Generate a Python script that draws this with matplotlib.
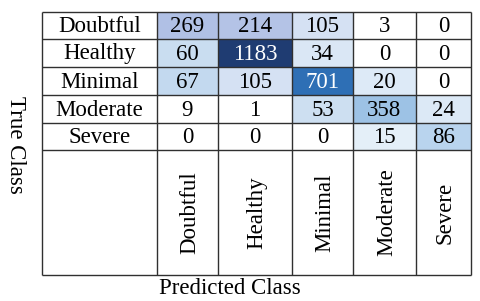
import numpy as np
import matplotlib
matplotlib.use('Agg')
import matplotlib.pyplot as plt
import matplotlib.colors as mcolors

# Confusion matrix data
classes = ['Doubtful', 'Healthy', 'Minimal', 'Moderate', 'Severe']
cm = np.array([
    [269, 214, 105, 3, 0],
    [60, 1183, 34, 0, 0],
    [67, 105, 701, 20, 0],
    [9, 1, 53, 358, 24],
    [0, 0, 0, 15, 86],
])

plt.rcParams['font.family'] = ['Liberation Serif', 'DejaVu Serif']
fs = 16.5

# table layout in pixels (figure is 480x301)
x_edges = np.array([42, 157, 218, 292, 353, 416, 471])
y_edges = np.array([12, 39, 67, 95, 123, 150, 275])

# colour scale anchored on the shades in the original
anchors = [(0, '#ffffff'), (9, '#ffffff'), (15, '#deebf7'), (34, '#dae7f5'),
           (60, '#c6dbef'), (86, '#b8d3ee'), (105, '#dae3f4'), (214, '#b4c3e6'),
           (269, '#b0c0e5'), (358, '#9dc2e5'), (701, '#2e6fb5'), (1183, '#1f3c72')]
vmax = cm.max()
cmap = mcolors.LinearSegmentedColormap.from_list(
    'cm_blues', [(v / vmax, c) for v, c in anchors])

fig = plt.figure(figsize=(4.8, 3.01), dpi=100)
ax = fig.add_axes([0, 0, 1, 1])
ax.set_xlim(0, 480)
ax.set_ylim(301, 0)
ax.axis('off')

ax.pcolormesh(x_edges[1:], y_edges[:-1], cm, cmap=cmap, vmin=0, vmax=vmax)

# grid lines
line_col = '#303030'
ax.vlines(x_edges, y_edges[0], y_edges[-1], color=line_col, linewidth=1)
ax.hlines(y_edges, x_edges[0], x_edges[-1], color=line_col, linewidth=1)

xc = (x_edges[:-1] + x_edges[1:]) / 2
yc = (y_edges[:-1] + y_edges[1:]) / 2

for i, name in enumerate(classes):
    ax.text(xc[0], yc[i] + 1, name, ha='center', va='center', fontsize=fs)
    ax.text(xc[i + 1] + 2, yc[-1], name, ha='center', va='center',
            rotation=90, fontsize=fs)
    for j in range(len(classes)):
        val = cm[i, j]
        col = 'white' if val > 600 else 'black'
        ax.text(xc[j + 1], yc[i] + 1, str(val), ha='center', va='center',
                fontsize=fs, color=col)

ax.text(15, 145, 'True Class', rotation=270, ha='center', va='center', fontsize=fs)
ax.text(230, 289, 'Predicted Class', ha='center', va='center', fontsize=fs)

fig.savefig('out.png', dpi=100)
